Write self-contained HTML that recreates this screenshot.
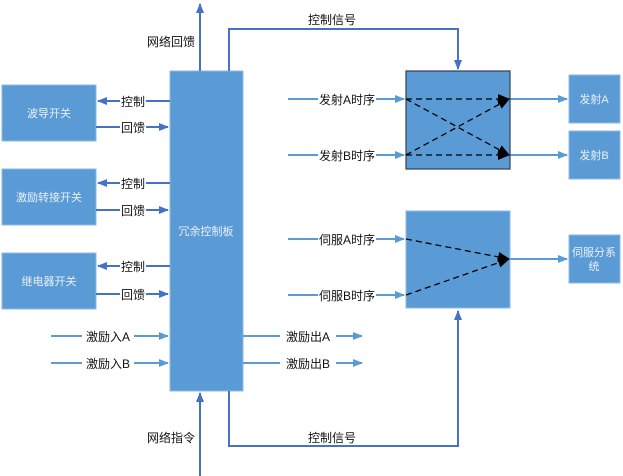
<!DOCTYPE html>
<html><head><meta charset="utf-8"><style>
html,body{margin:0;padding:0;background:#fff;}
svg{display:block;}
text{font-family:"Liberation Sans","Noto Sans CJK SC",sans-serif;}
.lbl{font-size:12px;fill:#111;}
.bl{font-size:11px;fill:#e8f0f8;}
</style></head><body>
<svg width="623" height="476" viewBox="0 0 623 476" xmlns="http://www.w3.org/2000/svg">
<defs>
<marker id="al" markerWidth="10" markerHeight="8" refX="9" refY="4" orient="auto" markerUnits="userSpaceOnUse"><path d="M0,0 L10,4 L0,8 Z" fill="#5b9bd5"/></marker>
<marker id="ad" markerWidth="10" markerHeight="8" refX="9" refY="4" orient="auto" markerUnits="userSpaceOnUse"><path d="M0,0 L10,4 L0,8 Z" fill="#4472c4"/></marker>
<marker id="ab" markerWidth="12" markerHeight="10" refX="11" refY="5" orient="auto" markerUnits="userSpaceOnUse"><path d="M0,0 L12,5 L0,10 Z" fill="#000"/></marker>
</defs>
<rect width="623" height="476" fill="#fff"/>
<!-- left boxes -->
<rect x="2" y="85" width="94" height="56" fill="#5b9bd5" stroke="#8db8e4" stroke-width="1"/>
<rect x="2" y="169" width="94" height="56" fill="#5b9bd5" stroke="#8db8e4" stroke-width="1"/>
<rect x="2" y="253" width="94" height="56" fill="#5b9bd5" stroke="#8db8e4" stroke-width="1"/>
<text class="bl" x="49" y="117" text-anchor="middle">波导开关</text>
<text class="bl" x="49" y="201" text-anchor="middle">激励转接开关</text>
<text class="bl" x="49" y="285" text-anchor="middle">继电器开关</text>
<!-- main board -->
<rect x="170" y="71" width="73" height="320" fill="#5b9bd5" stroke="#8db8e4" stroke-width="1"/>
<text class="bl" x="206" y="235" text-anchor="middle">冗余控制板</text>
<!-- control/feedback arrows -->
<g stroke="#4472c4" stroke-width="2" fill="none">
<line x1="170" y1="101" x2="98" y2="101" marker-end="url(#ad)"/>
<line x1="96" y1="127" x2="168" y2="127" marker-end="url(#ad)"/>
<line x1="170" y1="183" x2="98" y2="183" marker-end="url(#ad)"/>
<line x1="96" y1="210" x2="168" y2="210" marker-end="url(#ad)"/>
<line x1="170" y1="266" x2="98" y2="266" marker-end="url(#ad)"/>
<line x1="96" y1="294" x2="168" y2="294" marker-end="url(#ad)"/>
<line x1="200" y1="71" x2="200" y2="4" marker-end="url(#ad)"/>
<line x1="200" y1="476" x2="200" y2="393" marker-end="url(#ad)"/>
<polyline points="229,71 229,29 458,29 458,69" marker-end="url(#ad)"/>
<polyline points="229,391 229,446 458,446 458,311" marker-end="url(#ad)"/>
</g>
<g font-size="12" fill="#111">
<rect x="120" y="94" width="26" height="14" fill="#fff"/><text class="lbl" x="133" y="106" text-anchor="middle">控制</text>
<rect x="120" y="120" width="26" height="14" fill="#fff"/><text class="lbl" x="133" y="132" text-anchor="middle">回馈</text>
<rect x="120" y="176" width="26" height="14" fill="#fff"/><text class="lbl" x="133" y="188" text-anchor="middle">控制</text>
<rect x="120" y="203" width="26" height="14" fill="#fff"/><text class="lbl" x="133" y="215" text-anchor="middle">回馈</text>
<rect x="120" y="259" width="26" height="14" fill="#fff"/><text class="lbl" x="133" y="271" text-anchor="middle">控制</text>
<rect x="120" y="287" width="26" height="14" fill="#fff"/><text class="lbl" x="133" y="299" text-anchor="middle">回馈</text>
</g>
<text class="lbl" x="171" y="46" text-anchor="middle">网络回馈</text>
<text class="lbl" x="171" y="442" text-anchor="middle">网络指令</text>
<text class="lbl" x="332" y="24" text-anchor="middle">控制信号</text>
<text class="lbl" x="332" y="442" text-anchor="middle">控制信号</text>
<!-- excitation -->
<g stroke="#5b9bd5" stroke-width="2" fill="none">
<line x1="51" y1="336" x2="168" y2="336" marker-end="url(#al)"/>
<line x1="51" y1="363" x2="168" y2="363" marker-end="url(#al)"/>
<line x1="243" y1="336" x2="362" y2="336" marker-end="url(#al)"/>
<line x1="243" y1="363" x2="362" y2="363" marker-end="url(#al)"/>
<line x1="288" y1="99" x2="404" y2="99" marker-end="url(#al)"/>
<line x1="288" y1="155" x2="404" y2="155" marker-end="url(#al)"/>
<line x1="288" y1="239" x2="404" y2="239" marker-end="url(#al)"/>
<line x1="288" y1="295" x2="404" y2="295" marker-end="url(#al)"/>
<line x1="510" y1="99" x2="567" y2="99" marker-end="url(#al)"/>
<line x1="510" y1="155" x2="567" y2="155" marker-end="url(#al)"/>
<line x1="510" y1="259" x2="567" y2="259" marker-end="url(#al)"/>
</g>
<g>
<rect x="82" y="329" width="52" height="14" fill="#fff"/><text class="lbl" x="108" y="341" text-anchor="middle">激励入A</text>
<rect x="82" y="356" width="52" height="14" fill="#fff"/><text class="lbl" x="108" y="368" text-anchor="middle">激励入B</text>
<rect x="280" y="329" width="56" height="14" fill="#fff"/><text class="lbl" x="308" y="341" text-anchor="middle">激励出A</text>
<rect x="280" y="356" width="56" height="14" fill="#fff"/><text class="lbl" x="308" y="368" text-anchor="middle">激励出B</text>
<rect x="318" y="92" width="58" height="14" fill="#fff"/><text class="lbl" x="347" y="104" text-anchor="middle">发射A时序</text>
<rect x="318" y="148" width="58" height="14" fill="#fff"/><text class="lbl" x="347" y="160" text-anchor="middle">发射B时序</text>
<rect x="318" y="232" width="58" height="14" fill="#fff"/><text class="lbl" x="347" y="244" text-anchor="middle">伺服A时序</text>
<rect x="318" y="288" width="58" height="14" fill="#fff"/><text class="lbl" x="347" y="300" text-anchor="middle">伺服B时序</text>
</g>
<!-- switch boxes -->
<rect x="406" y="71" width="104" height="98" fill="#5b9bd5" stroke="#2f3f50" stroke-width="1.2"/>
<rect x="406" y="211" width="104" height="97" fill="#5b9bd5" stroke="#8db8e4" stroke-width="1"/>
<g stroke="#000" stroke-width="1.3" stroke-dasharray="6,4" fill="none">
<line x1="406" y1="99" x2="509" y2="99" marker-end="url(#ab)"/>
<line x1="406" y1="99" x2="509" y2="155" marker-end="url(#ab)"/>
<line x1="406" y1="155" x2="509" y2="99" marker-end="url(#ab)"/>
<line x1="406" y1="155" x2="509" y2="155" marker-end="url(#ab)"/>
<line x1="406" y1="239" x2="509" y2="259" marker-end="url(#ab)"/>
<line x1="406" y1="295" x2="509" y2="259" marker-end="url(#ab)"/>
</g>
<!-- right boxes -->
<rect x="569" y="75" width="51" height="48" fill="#5b9bd5" stroke="#8db8e4" stroke-width="1"/>
<rect x="569" y="131" width="51" height="48" fill="#5b9bd5" stroke="#8db8e4" stroke-width="1"/>
<rect x="569" y="235" width="51" height="48" fill="#5b9bd5" stroke="#8db8e4" stroke-width="1"/>
<text class="bl" x="594" y="103" text-anchor="middle">发射A</text>
<text class="bl" x="594" y="159" text-anchor="middle">发射B</text>
<text class="bl" x="594" y="256" text-anchor="middle">伺服分系</text>
<text class="bl" x="594" y="270" text-anchor="middle">统</text>
</svg>
</body></html>
